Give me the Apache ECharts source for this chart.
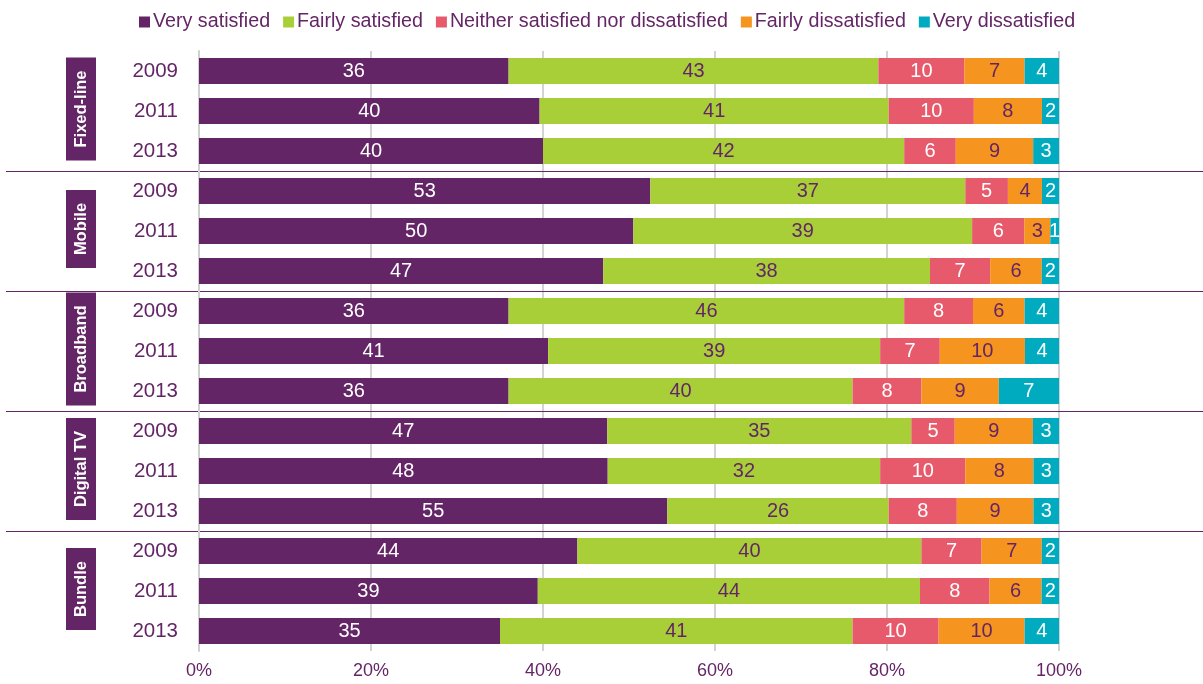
<!DOCTYPE html>
<html><head><meta charset="utf-8">
<script src="https://cdn.jsdelivr.net/npm/echarts@6/dist/echarts.min.js"></script>
<style>html,body{margin:0;padding:0;background:#fff}#c{width:1203px;height:684px}</style>
</head><body><div id="c"></div>
<script>
const groups = ['Fixed-line','Mobile','Broadband','Digital TV','Bundle'];
const years = ['2009','2011','2013'];
const seriesNames = ['Very satisfied','Fairly satisfied','Neither satisfied nor dissatisfied','Fairly dissatisfied','Very dissatisfied'];
const verySatisfied   = [36,40,40, 53,50,47, 36,41,36, 47,48,55, 44,39,35];
const fairlySatisfied = [43,41,42, 37,39,38, 46,39,40, 35,32,26, 40,44,41];
const neither         = [10,10,6,  5,6,7,    8,7,8,    5,10,8,   7,8,10];
const fairlyDis       = [7,8,9,    4,3,6,    6,10,9,   9,8,9,    7,6,10];
const veryDis         = [4,2,3,    2,1,2,    4,4,7,    3,3,3,    2,2,4];
const xTicks = [0,20,40,60,80,100];

const colors = ['#642566','#A8CF38','#E65A6B','#F5941F','#00ABC0'];
const labelColors = ['#ffffff','#642566','#ffffff','#642566','#ffffff'];
const purple = '#642566';

const allSeries = [verySatisfied, fairlySatisfied, neither, fairlyDis, veryDis];
const cats = [];
groups.forEach(g => years.forEach(y => cats.push(g + '|' + y)));
const totals = cats.map((_, i) => allSeries.reduce((s, arr) => s + arr[i], 0));

const chart = echarts.init(document.getElementById('c'));
const option = {
  animation: false,
  textStyle: { fontFamily: 'Liberation Sans, Arial, sans-serif' },
  legend: {
    top: 7, left: 134,
    itemWidth: 11, itemHeight: 11, itemGap: 13,
    icon: 'rect',
    textStyle: { color: purple, fontSize: 19.7, padding: [0, 0, 0, -2] },
    data: seriesNames
  },
  grid: { left: 199, right: 144, top: 51, bottom: 33, containLabel: false },
  xAxis: {
    type: 'value', min: 0, max: 100, interval: 20,
    axisLabel: { formatter: '{value}%', color: purple, fontSize: 18, margin: 11 },
    axisLine: { show: false }, axisTick: { show: false },
    splitLine: { lineStyle: { color: '#D3D3D3', width: 2 } }
  },
  yAxis: {
    type: 'category', inverse: true, data: cats,
    axisLabel: { formatter: v => v.split('|')[1], color: purple, fontSize: 20.5, margin: 21 },
    axisLine: { lineStyle: { color: '#D0D0D0', width: 2 } },
    axisTick: { lineStyle: { color: '#D0D0D0', width: 2 }, length: 7 }
  },
  series: seriesNames.map((name, k) => ({
    name, type: 'bar', stack: 'total', barWidth: 26,
    itemStyle: { color: colors[k] },
    label: {
      show: true, position: 'inside', color: labelColors[k], fontSize: 20,
      formatter: p => String(allSeries[k][p.dataIndex])
    },
    data: allSeries[k].map((v, i) => v / totals[i] * 100)
  }))
};
chart.setOption(option);

function drawOverlay() {
  const els = [];
  const step = chart.convertToPixel({ yAxisIndex: 0 }, cats[1]) - chart.convertToPixel({ yAxisIndex: 0 }, cats[0]);
  groups.forEach((g, gi) => {
    const first = chart.convertToPixel({ yAxisIndex: 0 }, cats[gi * 3]);
    const last = chart.convertToPixel({ yAxisIndex: 0 }, cats[gi * 3 + 2]);
    const cy = (first + last) / 2;
    els.push({
      type: 'text', x: 81, y: cy - 2, rotation: Math.PI / 2,
      style: {
        text: g, fill: '#ffffff', font: 'bold 16.5px Liberation Sans, Arial, sans-serif',
        align: 'center', verticalAlign: 'middle',
        backgroundColor: purple, padding: [7, 13, 6, 13]
      }
    });
    if (gi < groups.length - 1) {
      const yLine = Math.round(last + step / 2) + 0.5;
      els.push({
        type: 'line', shape: { x1: 6, y1: yLine, x2: 1203, y2: yLine },
        style: { stroke: purple, lineWidth: 1.2 }
      });
    }
  });
  chart.setOption({ graphic: els });
}
drawOverlay();
</script>
</body></html>
